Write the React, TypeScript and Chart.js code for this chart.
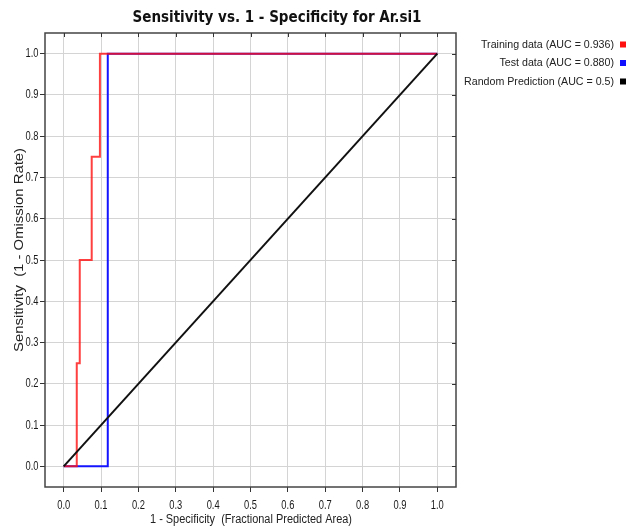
import React, { useEffect, useRef } from "react";
import { Chart, registerables } from "chart.js";

Chart.register(...registerables);

const titleText = "Sensitivity vs. 1 - Specificity for Ar.si1";
const xTitle = "1 - Specificity  (Fractional Predicted Area)";
const yTitle = "Sensitivity  (1 - Omission Rate)";

const trainX = [0, 0.035, 0.035, 0.043, 0.043, 0.075, 0.075, 0.097, 0.097, 1.0];
const trainY = [0, 0, 0.25, 0.25, 0.5, 0.5, 0.75, 0.75, 1.0, 1.0];
const testX = [0, 0.118, 0.118, 1.0];
const testY = [0, 0, 1.0, 1.0];
const randX = [0, 1.0];
const randY = [0, 1.0];

const tickValues = [0, 0.1, 0.2, 0.3, 0.4, 0.5, 0.6, 0.7, 0.8, 0.9, 1.0];

const legendLabels = [
  "Training data (AUC = 0.936)",
  "Test data (AUC = 0.880)",
  "Random Prediction (AUC = 0.5)",
];
const legendColors = ["#ff1010", "#1010ff", "#000000"];

const TITLE_FONT = "'DejaVu Sans Condensed', 'Liberation Sans', sans-serif";
const FONT = "'Liberation Sans', Arial, sans-serif";

const pts = (xs: number[], ys: number[]) => xs.map((x, i) => ({ x, y: ys[i] }));

function drawText(
  ctx: CanvasRenderingContext2D,
  text: string,
  x: number,
  y: number,
  sx: number,
  align: CanvasTextAlign
) {
  ctx.save();
  ctx.translate(x, y);
  ctx.scale(sx, 1);
  ctx.textAlign = align;
  ctx.textBaseline = "middle";
  ctx.fillText(text, 0, 0);
  ctx.restore();
}

const decorPlugin = {
  id: "decor",
  afterDraw(chart: any) {
    const { ctx, chartArea } = chart;
    const { left, right, top, bottom } = chartArea;
    const xs = chart.scales.x;
    const ys = chart.scales.y;
    ctx.save();
    // frame
    ctx.strokeStyle = "#444";
    ctx.lineWidth = 1.5;
    ctx.strokeRect(left, top, right - left, bottom - top);
    // inside ticks top & right
    ctx.lineWidth = 1;
    ctx.strokeStyle = "#333";
    tickValues.forEach((v) => {
      const px = Math.round(xs.getPixelForValue(v)) + 0.5;
      ctx.beginPath();
      ctx.moveTo(px, top);
      ctx.lineTo(px, top + 4);
      ctx.stroke();
      const py = Math.round(ys.getPixelForValue(v)) + 0.5;
      ctx.beginPath();
      ctx.moveTo(right, py);
      ctx.lineTo(right - 4, py);
      ctx.stroke();
    });
    // tick labels
    ctx.fillStyle = "#1a1a1a";
    ctx.font = `13px ${FONT}`;
    tickValues.forEach((v) => {
      const lab = v.toFixed(1);
      drawText(ctx, lab, xs.getPixelForValue(v), 505, 0.72, "center");
      drawText(ctx, lab, 38.5, ys.getPixelForValue(v), 0.72, "right");
    });
    // title
    ctx.fillStyle = "#111";
    ctx.font = `bold 15px ${TITLE_FONT}`;
    ctx.textAlign = "center";
    ctx.textBaseline = "middle";
    ctx.fillText(titleText, 277, 18);
    // axis titles
    ctx.font = `12px ${FONT}`;
    ctx.fillStyle = "#222";
    const wx = ctx.measureText(xTitle).width;
    drawText(ctx, xTitle, 251, 520, 202 / wx, "center");
    ctx.font = `13px ${FONT}`;
    const wy = ctx.measureText(yTitle).width;
    ctx.save();
    ctx.translate(19, 250);
    ctx.rotate(-Math.PI / 2);
    drawText(ctx, yTitle, 0, 0, 204 / wy, "center");
    ctx.restore();
    // legend
    ctx.font = `11px ${FONT}`;
    const rowsY = [44.5, 63, 81.5];
    const w0 = ctx.measureText(legendLabels[0]).width;
    const lsx = 133 / w0;
    legendLabels.forEach((lab, i) => {
      ctx.fillStyle = "#222";
      drawText(ctx, lab, 614, rowsY[i], lsx, "right");
      ctx.fillStyle = legendColors[i];
      ctx.fillRect(620, rowsY[i] - 3, 6, 6);
    });
    ctx.restore();
  },
};

export default function App() {
  const ref = useRef<HTMLCanvasElement | null>(null);
  useEffect(() => {
    if (!ref.current) return;
    const chart = new Chart(ref.current, {
      type: "scatter",
      data: {
        datasets: [
          {
            label: legendLabels[2],
            data: pts(randX, randY),
            showLine: true,
            borderColor: "#111111",
            borderWidth: 2,
            pointRadius: 0,
            order: 0,
          },
          {
            label: legendLabels[0],
            data: pts(trainX, trainY),
            showLine: true,
            borderColor: "rgba(255,16,16,0.8)",
            borderWidth: 2,
            pointRadius: 0,
            order: 1,
          },
          {
            label: legendLabels[1],
            data: pts(testX, testY),
            showLine: true,
            borderColor: "#1414ff",
            borderWidth: 2,
            pointRadius: 0,
            order: 2,
          },
        ],
      },
      options: {
        animation: false,
        responsive: false,
        maintainAspectRatio: false,
        layout: { padding: { left: 0, top: 33, right: 172, bottom: 0 } },
        plugins: {
          legend: { display: false },
          title: { display: false },
          tooltip: { enabled: false },
        },
        scales: {
          x: {
            type: "linear",
            min: -0.05,
            max: 1.05,
            afterBuildTicks: (s: any) => {
              s.ticks = tickValues.map((v) => ({ value: v }));
            },
            afterFit: (s: any) => {
              s.height = 41;
            },
            grid: { color: "#d4d4d4", tickColor: "#333", tickLength: 5, lineWidth: 1 },
            border: { display: false },
            ticks: { display: false },
          },
          y: {
            type: "linear",
            min: -0.05,
            max: 1.05,
            afterBuildTicks: (s: any) => {
              s.ticks = tickValues.map((v) => ({ value: v }));
            },
            afterFit: (s: any) => {
              s.width = 45;
            },
            grid: { color: "#d4d4d4", tickColor: "#333", tickLength: 5, lineWidth: 1 },
            border: { display: false },
            ticks: { display: false },
          },
        },
      },
      plugins: [decorPlugin],
    });
    return () => chart.destroy();
  }, []);
  return (
    <div style={{ position: "absolute", left: 0, top: 0, width: 628, height: 528, background: "#fff" }}>
      <canvas ref={ref} width={628} height={528} style={{ width: 628, height: 528 }} />
    </div>
  );
}
